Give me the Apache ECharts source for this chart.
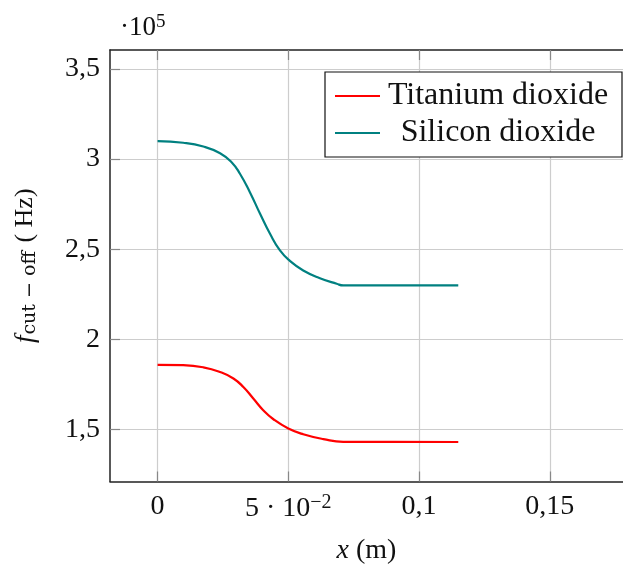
<!DOCTYPE html>
<html>
<head>
<meta charset="utf-8">
<script src="https://cdn.jsdelivr.net/npm/echarts@6/dist/echarts.min.js"></script>
<style>
html,body{margin:0;padding:0;background:#fff;}
#chart{width:623px;height:570px;}
</style>
</head>
<body>
<div id="chart"></div>
<script>
// Data (x in m, f in Hz)
const seriesNames = ['Titanium dioxide', 'Silicon dioxide'];
const tio2X = [0, 0.0098, 0.0175, 0.0239, 0.029, 0.0328, 0.0366, 0.0404, 0.0443, 0.05, 0.0557, 0.0634, 0.071, 0.09, 0.115];
const tio2Y = [186000, 185800, 184600, 182000, 178400, 173700, 167300, 160800, 155800, 150700, 147500, 144800, 143300, 143300, 143200];
const sio2X = [0, 0.0098, 0.0175, 0.0239, 0.0283, 0.0315, 0.0353, 0.0392, 0.043, 0.0468, 0.0507, 0.0557, 0.0621, 0.0685, 0.071, 0.09, 0.115];
const sio2Y = [310000, 309100, 307000, 303300, 298300, 291900, 281700, 269700, 258600, 249400, 243500, 238300, 234000, 230900, 230000, 230100, 230000];
const xTicks = [0, 0.05, 0.1, 0.15];
const xTickLabels = ['0', '5 · 10{sup|−2}', '0,1', '0,15'];
const yTicks = [150000, 200000, 250000, 300000, 350000];
const yTickLabels = ['1,5', '2', '2,5', '3', '3,5'];

const serif = '"Liberation Serif", "DejaVu Serif", serif';
const wideSerif = '"DejaVu Serif", serif';
const pair = (xs, ys) => xs.map((x, i) => [x, ys[i]]);
const X_MIN = -0.0182, X_MAX = 0.178;

const chart = echarts.init(document.getElementById('chart'), null, {renderer: 'canvas'});
chart.setOption({
  animation: false,
  backgroundColor: '#ffffff',
  grid: {left: 110, top: 50, right: 0, bottom: 88.5, containLabel: false},
  xAxis: [{
    type: 'value',
    min: X_MIN,
    max: X_MAX,
    axisLine: {show: true, onZero: false, lineStyle: {color: '#222', width: 1.5}},
    axisTick: {show: true, inside: true, length: 10, customValues: xTicks, lineStyle: {color: '#888', width: 1.2}},
    splitLine: {show: true, lineStyle: {color: '#cdcdcd', width: 1.2}},
    axisLabel: {
      customValues: xTicks,
      margin: 11,
      fontFamily: serif, fontSize: 28, color: '#111',
      formatter: v => { const i = xTicks.findIndex(t => Math.abs(t - v) < 1e-9); return i >= 0 ? xTickLabels[i] : ''; },
      rich: {sup: {fontFamily: serif, fontSize: 20, verticalAlign: 'top', padding: [0, 0, 12, 0], color: '#111'}}
    },
    name: '{i|x} (m)',
    nameLocation: 'middle',
    nameGap: 55,
    nameTextStyle: {fontFamily: serif, fontSize: 28, color: '#111', rich: {i: {fontFamily: serif, fontStyle: 'italic', fontSize: 28, color: '#111'}}}
  }, {
    type: 'value',
    position: 'top',
    min: X_MIN,
    max: X_MAX,
    axisLine: {show: true, onZero: false, lineStyle: {color: '#222', width: 1.5}},
    axisTick: {show: true, inside: true, length: 10, customValues: xTicks, lineStyle: {color: '#888', width: 1.2}},
    splitLine: {show: false},
    axisLabel: {show: false}
  }],
  yAxis: {
    type: 'value',
    min: 121300,
    max: 360500,
    axisLine: {show: true, onZero: false, lineStyle: {color: '#222', width: 1.5}},
    axisTick: {show: true, inside: true, length: 10, customValues: yTicks, lineStyle: {color: '#888', width: 1.2}},
    splitLine: {show: true, lineStyle: {color: '#cdcdcd', width: 1.2}},
    axisLabel: {
      customValues: yTicks,
      margin: 10,
      fontFamily: serif, fontSize: 28, color: '#111',
      formatter: v => { const i = yTicks.findIndex(t => Math.abs(t - v) < 1e-3); return i >= 0 ? yTickLabels[i] : ''; }
    },
    name: '{i|f}{sub|cut − off} ( Hz)',
    nameLocation: 'middle',
    nameGap: 70,
    nameTextStyle: {fontFamily: serif, fontSize: 26, color: '#111',
      rich: {i: {fontFamily: serif, fontStyle: 'italic', fontSize: 27, color: '#111'},
             sub: {fontFamily: wideSerif, fontSize: 19, color: '#111', padding: [10, 2, 0, 1]}}}
  },
  legend: {
    show: true,
    orient: 'vertical',
    left: 325, top: 72,
    padding: [8, 11, 8, 10],
    itemGap: 5,
    icon: 'rect',
    itemWidth: 45, itemHeight: 2.2,
    borderColor: '#111', borderWidth: 1.2, borderRadius: 0,
    backgroundColor: '#fff',
    data: seriesNames,
    formatter: n => '{c|' + n + '}',
    textStyle: {fontFamily: serif, fontSize: 32, color: '#111', width: 226, lineHeight: 30,
      rich: {c: {align: 'center', fontFamily: serif, fontSize: 32, color: '#111', lineHeight: 30}}}
  },
  graphic: [{
    type: 'text', left: 120, top: 13,
    style: {text: '·10{sup|5}', fontFamily: serif, fontSize: 27, fill: '#111',
      rich: {sup: {fontFamily: serif, fontSize: 19, verticalAlign: 'top', padding: [0, 0, 10, 0]}}}
  }],
  series: [
    {name: seriesNames[0], type: 'line', xAxisIndex: 0, data: pair(tio2X, tio2Y), symbol: 'none', smooth: 0.5,
     lineStyle: {color: '#ff0000', width: 2.2}, itemStyle: {color: '#ff0000'}},
    {name: seriesNames[1], type: 'line', xAxisIndex: 0, data: pair(sio2X, sio2Y), symbol: 'none', smooth: 0.5,
     lineStyle: {color: '#008080', width: 2.2}, itemStyle: {color: '#008080'}}
  ]
});
</script>
</body>
</html>
